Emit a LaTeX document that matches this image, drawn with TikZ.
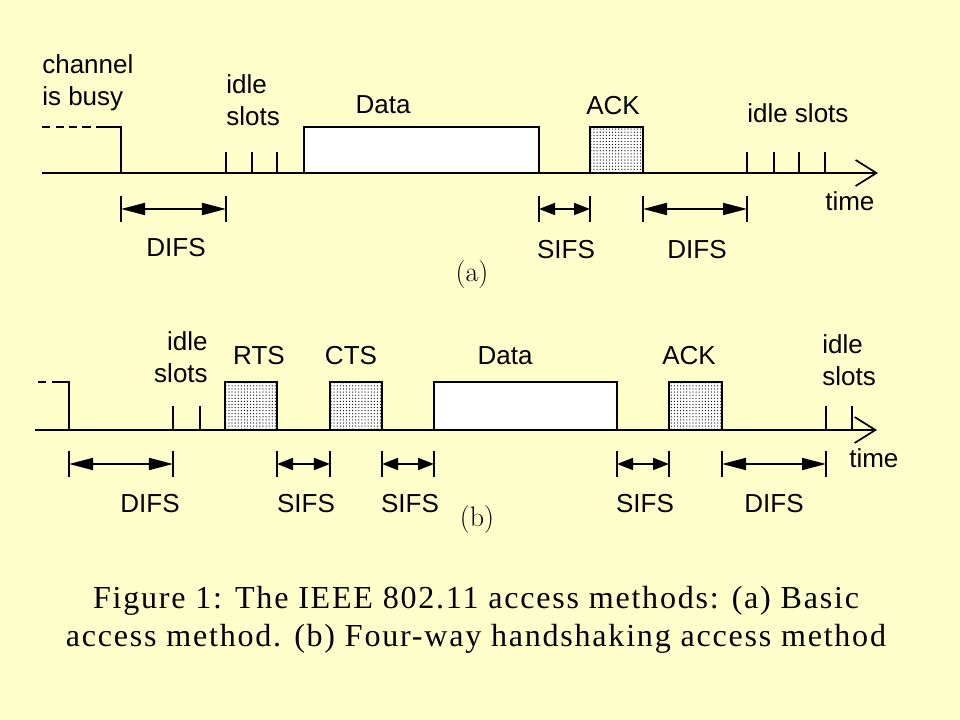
\documentclass[tikz,border=0pt]{standalone}
\usepackage{fontspec}
\setsansfont{Liberation Sans}
\newfontfamily\capfont[LetterSpace=5.5]{Liberation Serif}
\usetikzlibrary{arrows.meta,patterns.meta}
\definecolor{paper}{RGB}{255,255,204}
\tikzset{
  axis/.style={line width=1.4pt, -{Straight Barb[length=5.2mm,width=6.5mm,line width=1.2pt]}},
  busy/.style={line width=1.4pt, dash pattern=on 6pt off 3.6pt},
  frame/.style={draw, line width=2.1pt, fill=white},
  ctrl/.style={draw, line width=2.1pt, preaction={fill=white},
    pattern={Dots[distance=2.2pt, radius=0.45pt]}},
  slot/.style={line width=2pt},
  endbar/.style={line width=2pt},
  longgap/.style={line width=1.2pt, {Triangle[length=6mm,width=3mm]}-{Triangle[length=6mm,width=3mm]}},
  shortgap/.style={line width=1.2pt, {Triangle[length=4mm,width=3mm]}-{Triangle[length=4mm,width=3mm]}},
  lbl/.style={font=\sffamily\fontsize{18.5}{22.8}\selectfont, inner sep=0pt},
  sub/.style={font=\fontsize{20}{24}\selectfont, inner sep=0pt},
  capt/.style={font=\capfont\fontsize{22.8}{27}\selectfont, inner sep=0pt}
}
\begin{document}
\begin{tikzpicture}[x=0.025cm, y=-0.025cm]
  \fill[paper] (0,0) rectangle (960,720);
  \useasboundingbox (0,0) rectangle (960,720);

  % (a) basic access
  \coordinate (a0) at (42,173);
  \coordinate (a1) at (878,173);
  \draw[axis] (a0) -- (a1);
  \draw[busy] (42,127) -- (103,127);
  \draw[line width=1.4pt] (103,127) -- (121,127) -- (121,173);
  \foreach \x in {226,252,277,747,774,799,825}
    \draw[slot] (\x,152) -- (\x,173);
  \draw[frame] (304,173) rectangle (539,127);
  \draw[ctrl] (590,173) rectangle (643,127);

  \coordinate (aD1) at (121,209);
  \coordinate (aD2) at (226,209);
  \coordinate (aS1) at (539,209);
  \coordinate (aS2) at (590,209);
  \coordinate (aD3) at (643,209);
  \coordinate (aD4) at (747,209);
  \draw[longgap] (aD1) -- (aD2);
  \draw[shortgap] (aS1) -- (aS2);
  \draw[longgap] (aD3) -- (aD4);
  \foreach \p in {aD1,aD2,aS1,aS2,aD3,aD4}
    \draw[endbar] (\p) ++(0,-13) -- ++(0,26);

  \node[lbl, anchor=north west, align=left] (abusy) at (42,54) {channel\\is busy};
  \node[lbl, anchor=north west, align=left] (aidle) at (226,74) {idle\\slots};
  \node[lbl, anchor=base] (adata) at (383,114) {Data};
  \node[lbl, anchor=base] (aack) at (613,115) {ACK};
  \node[lbl, anchor=base west] (aidle2) at (747,123) {idle slots};
  \node[lbl, anchor=base west] (atime) at (825,211) {time};
  \node[lbl, anchor=base] (adifs) at (176,257) {DIFS};
  \node[lbl, anchor=base] (asifs) at (566,259) {SIFS};
  \node[lbl, anchor=base] (adifs2) at (697,259) {DIFS};
  \node[sub, anchor=base] (asub) at (472,282) {(a)};

  % (b) four-way handshaking
  \coordinate (b0) at (35,430);
  \coordinate (b1) at (877,430);
  \draw[axis] (b0) -- (b1);
  \draw[busy] (38,382) -- (57,382);
  \draw[line width=1.4pt] (57,382) -- (69,382) -- (69,430);
  \foreach \x in {173,200,826,852}
    \draw[slot] (\x,406) -- (\x,430);
  \draw[ctrl] (225,430) rectangle (277,382);
  \draw[ctrl] (330,430) rectangle (382,382);
  \draw[frame] (434,430) rectangle (617,382);
  \draw[ctrl] (669,430) rectangle (722,382);

  \coordinate (bD1) at (69,464);
  \coordinate (bD2) at (173,464);
  \coordinate (bS1) at (277,464);
  \coordinate (bS2) at (330,464);
  \coordinate (bS3) at (382,464);
  \coordinate (bS4) at (434,464);
  \coordinate (bS5) at (617,464);
  \coordinate (bS6) at (669,464);
  \coordinate (bD3) at (722,464);
  \coordinate (bD4) at (826,464);
  \draw[longgap] (bD1) -- (bD2);
  \draw[shortgap] (bS1) -- (bS2);
  \draw[shortgap] (bS3) -- (bS4);
  \draw[shortgap] (bS5) -- (bS6);
  \draw[longgap] (bD3) -- (bD4);
  \foreach \p in {bD1,bD2,bS1,bS2,bS3,bS4,bS5,bS6,bD3,bD4}
    \draw[endbar] (\p) ++(0,-13) -- ++(0,26);

  \node[lbl, anchor=north east, align=right] (bidle) at (208,331) {idle\\slots};
  \node[lbl, anchor=base] (brts) at (259,365) {RTS};
  \node[lbl, anchor=base] (bcts) at (351,365) {CTS};
  \node[lbl, anchor=base] (bdata) at (505,365) {Data};
  \node[lbl, anchor=base] (back) at (689,365) {ACK};
  \node[lbl, anchor=north west, align=left] (bidle2) at (822,334) {idle\\slots};
  \node[lbl, anchor=base west] (btime) at (849,468) {time};
  \node[lbl, anchor=base] (bdifs) at (150,513) {DIFS};
  \node[lbl, anchor=base] (bsifs) at (306,513) {SIFS};
  \node[lbl, anchor=base] (bsifs2) at (410,513) {SIFS};
  \node[lbl, anchor=base] (bsifs3) at (645,513) {SIFS};
  \node[lbl, anchor=base] (bdifs2) at (774,513) {DIFS};
  \node[sub, anchor=base] (bsub) at (477,527) {(b)};

  % caption
  \node[capt, anchor=north, align=center] (fig) at (476,586)
    {Figure 1: The IEEE 802.11 access methods: (a) Basic\\access method. (b) Four-way handshaking access method};
\end{tikzpicture}
\end{document}
